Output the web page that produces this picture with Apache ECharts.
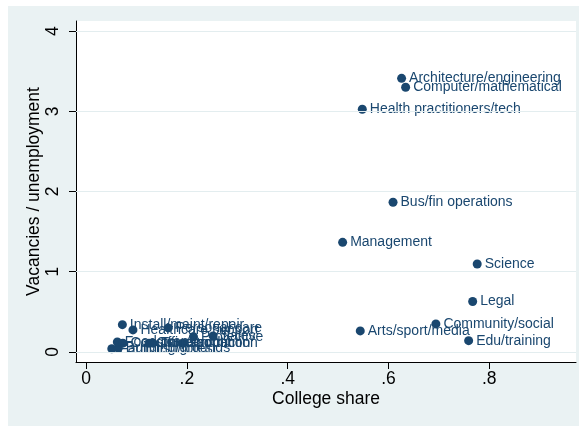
<!DOCTYPE html>
<html>
<head>
<meta charset="utf-8">
<script src="https://cdn.jsdelivr.net/npm/echarts@6/dist/echarts.min.js"></script>
<style>
  html, body { margin: 0; padding: 0; background: #fff; }
  #chart { position: absolute; left: 8px; top: 6px; width: 571px; height: 420px; }
</style>
</head>
<body>
<div id="chart"></div>
<script>
// occupation groups
var occupations = [
  'Architecture/engineering', 'Computer/mathematical', 'Health practitioners/tech',
  'Bus/fin operations', 'Management', 'Science', 'Legal', 'Community/social',
  'Arts/sport/media', 'Edu/training',
  'Install/maint/repair', 'Healthcare support', 'Personal care', 'Protective', 'Sales',
  'Farm/fish/forest', 'Building/grounds', 'Food prep', 'Construction',
  'Office/admin', 'Transportation', 'Production'
]
var collegeShare = [
  0.626, 0.634, 0.548,
  0.609, 0.509, 0.776, 0.767, 0.694,
  0.544, 0.759,
  0.072, 0.093, 0.163, 0.213, 0.252,
  0.051, 0.064, 0.062, 0.073,
  0.125, 0.133, 0.193
]
var vacancyRatio = [
  3.41, 3.30, 3.025,
  1.866, 1.366, 1.096, 0.629, 0.35,
  0.2625, 0.141,
  0.34, 0.275, 0.30, 0.19, 0.20,
  0.04, 0.05, 0.125, 0.11,
  0.11, 0.11, 0.11
]
var xTicks = [0, 0.2, 0.4, 0.6, 0.8]
var yTicks = [0, 1, 2, 3, 4]

var navy = '#1a476f'
var font = 'Liberation Sans, Arial, sans-serif'

var points = occupations.map(function (name, i) {
  return { name: name, value: [collegeShare[i], vacancyRatio[i]] }
})

var myChart = echarts.init(document.getElementById('chart'))
myChart.setOption({
  backgroundColor: '#eaf2f3',
  animation: false,
  grid: {
    left: 68,
    right: 3,
    top: 15,
    bottom: 64,
    show: true,
    backgroundColor: '#ffffff',
    borderWidth: 0
  },
  xAxis: {
    type: 'value',
    min: -0.02,
    max: 0.972,
    name: 'College share',
    nameLocation: 'middle',
    nameGap: 28,
    nameMoveOverlap: false,
    nameTextStyle: { color: '#000', fontSize: 17.5, fontFamily: font },
    axisLine: { show: true, onZero: false, lineStyle: { color: '#000', width: 1 } },
    axisTick: { show: true, length: 7, customValues: xTicks, lineStyle: { color: '#000' } },
    axisLabel: {
      customValues: xTicks,
      margin: 8,
      color: '#000',
      fontSize: 17.5,
      fontFamily: font,
      formatter: function (v) {
        if (v === 0) return '0'
        return String(+v.toFixed(1)).replace(/^0/, '')
      }
    },
    splitLine: { show: false }
  },
  yAxis: {
    type: 'value',
    min: -0.125,
    max: 4.125,
    name: 'Vacancies / unemployment',
    nameLocation: 'middle',
    nameGap: 33,
    nameMoveOverlap: false,
    nameTextStyle: { color: '#000', fontSize: 17.5, fontFamily: font },
    axisLine: { show: true, onZero: false, lineStyle: { color: '#000', width: 1 } },
    axisTick: { show: true, length: 7, customValues: yTicks, lineStyle: { color: '#000' } },
    axisLabel: {
      customValues: yTicks,
      rotate: 90,
      margin: 14,
      color: '#000',
      fontSize: 17.5,
      fontFamily: font
    },
    splitLine: { show: false }
  },
  series: [
    {
      // gridlines at the y ticks
      type: 'scatter',
      data: [],
      silent: true,
      z: 1,
      markLine: {
        silent: true,
        symbol: 'none',
        label: { show: false },
        lineStyle: { color: '#e3edef', width: 1, type: 'solid' },
        data: yTicks.map(function (v) { return { yAxis: v } })
      }
    },
    {
      type: 'scatter',
      symbolSize: 9,
      itemStyle: { color: navy, opacity: 1 },
      z: 3,
      label: {
        show: true,
        position: 'right',
        distance: 3,
        formatter: '{b}',
        color: navy,
        fontSize: 14,
        fontFamily: font
      },
      data: points
    }
  ]
})
</script>
</body>
</html>
